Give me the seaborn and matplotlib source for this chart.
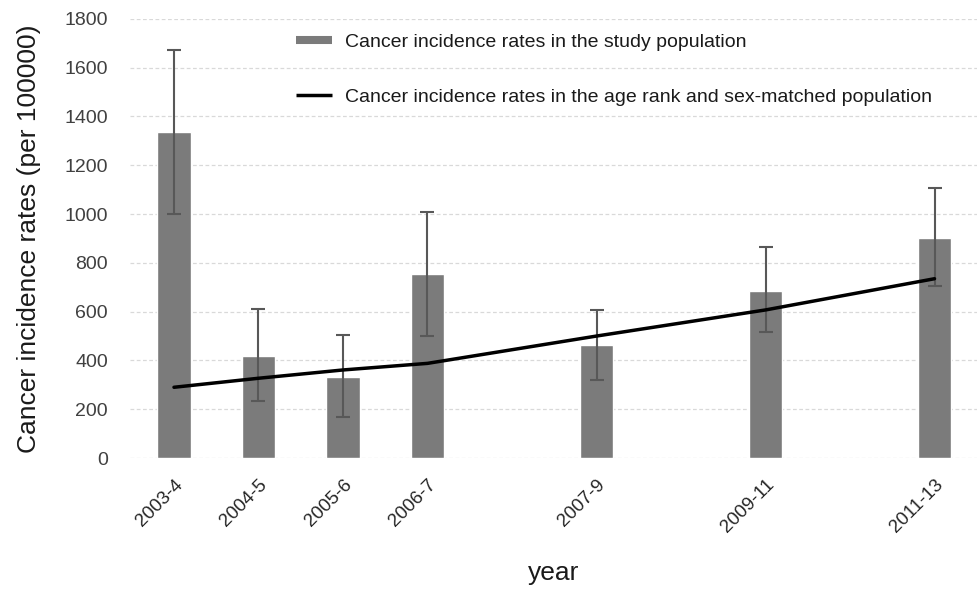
import matplotlib
matplotlib.use("Agg")
import matplotlib.pyplot as plt
from matplotlib.lines import Line2D
import seaborn as sns
import numpy as np
import pandas as pd

# ---- data ----
periods = ["2003-4", "2004-5", "2005-6", "2006-7", "2007-9", "2009-11", "2011-13"]
end_years = [2004, 2005, 2006, 2007, 2009, 2011, 2013]
study_rates = [1337, 419, 333, 756, 462, 686, 901]
study_lower = [1002, 234, 169, 501, 320, 517, 705]
study_upper = [1673, 611, 504, 1010, 607, 864, 1105]
matched_rates = [290, 327, 361, 388, 500, 607, 735]

bar_label = "Cancer incidence rates in the study population"
line_label = "Cancer incidence rates in the age rank and sex-matched population"

sns.set_theme(style="white")
plt.rcParams["font.family"] = ["Liberation Sans", "DejaVu Sans"]

xpos = [y - end_years[0] for y in end_years]
df = pd.DataFrame({"x": xpos, "rate": study_rates, "matched": matched_rates})

bar_color = "#7b7b7b"
fig = plt.figure(figsize=(9.8, 5.91), dpi=100)
ax = fig.add_axes([0.1327, 0.225, 0.864, 0.743])

sns.barplot(data=df, x="x", y="rate", native_scale=True, width=0.4,
            color=bar_color, saturation=1, ax=ax, zorder=2)
yerr = np.array([np.array(study_rates) - np.array(study_lower),
                 np.array(study_upper) - np.array(study_rates)])
ax.errorbar(xpos, study_rates, yerr=yerr, fmt="none", ecolor="#585858",
            elinewidth=1.5, capsize=5, capthick=1.5, zorder=3)
sns.lineplot(data=df, x="x", y="matched", color="black", linewidth=2.5,
             ax=ax, zorder=4, legend=False)

ax.set_xlim(-0.52, 9.5)
ax.set_ylim(0, 1800)
ax.set_yticks(range(0, 1801, 200))
ax.set_xticks(xpos)
ax.set_xticklabels(periods, rotation=45, ha="right", rotation_mode="anchor",
                   fontsize=13.5, color="#262626")
ax.tick_params(axis="y", labelsize=14, labelcolor="#404040", length=0, pad=16)
ax.tick_params(axis="x", length=0, pad=13)
ax.yaxis.grid(True, color="#d9d9d9", linestyle=(0, (3, 2)), linewidth=0.9)
ax.set_axisbelow(True)
for s in ax.spines.values():
    s.set_visible(False)

ax.set_xlabel("year", fontsize=19, labelpad=18, color="#1a1a1a")
ax.set_ylabel("Cancer incidence rates (per 100000)", fontsize=19, labelpad=17,
              color="#1a1a1a")

handles = [Line2D([], [], color=bar_color, linewidth=5.8, solid_capstyle="butt"),
           Line2D([], [], color="black", linewidth=2.5, solid_capstyle="butt")]
leg = ax.legend(handles, [bar_label, line_label], loc="upper left",
                bbox_to_anchor=(0.175, 1.008), frameon=False, fontsize=14,
                labelspacing=1.95, handlelength=1.85, handletextpad=0.7)
for t in leg.get_texts():
    t.set_color("#1a1a1a")

fig.savefig("out.png", dpi=100)
